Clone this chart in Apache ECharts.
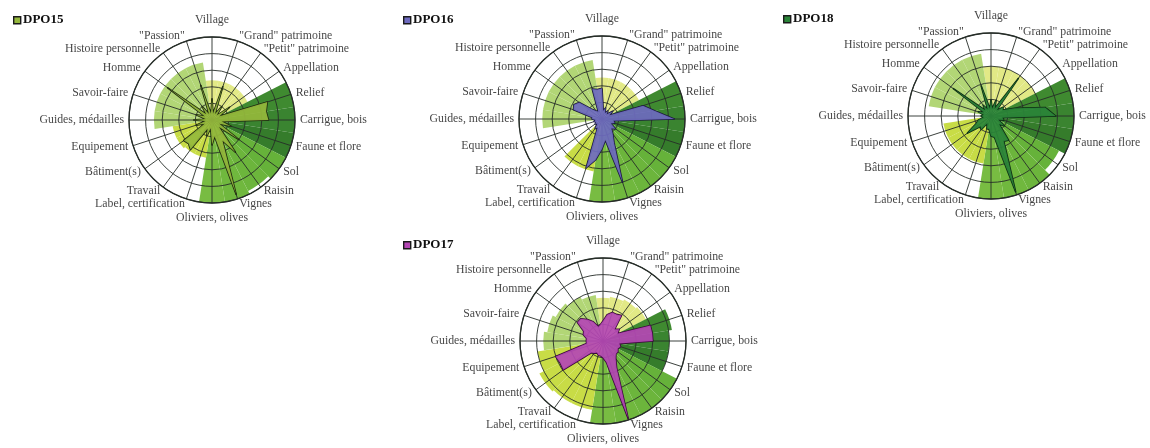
<!DOCTYPE html>
<html>
<head>
<meta charset="utf-8">
<script src="https://cdn.jsdelivr.net/npm/echarts@6/dist/echarts.min.js"></script>
<style>
html,body{margin:0;padding:0;background:#fff;}
#c{width:1150px;height:448px;}
</style>
</head>
<body>
<div id="c"></div>
<script>
// Categories, clockwise from the top
const categories = ['Village', '"Grand" patrimoine', '"Petit" patrimoine', 'Appellation', 'Relief',
  'Carrigue, bois', 'Faune et flore', 'Sol', 'Raisin', 'Vignes', 'Oliviers, olives',
  'Label, certification', 'Travail', 'Bâtiment(s)', 'Equipement', 'Guides, médailles',
  'Savoir-faire', 'Homme', 'Histoire personnelle', '"Passion"'];

const chartNames = ['DPO15', 'DPO16', 'DPO18', 'DPO17'];

// Background sector values (per category, 0-5)
const bgDPO15 = [2.4, 2.4, 2.4, 2.4, 5, 5, 5, 5, 4.8, 5, 5, 2.3, 2.3, 2.4, 2.4, 3.5, 3.5, 3.5, 3.5, 3.5];
const bgDPO16 = [2.5, 2.5, 2.5, 2.5, 5, 5, 5, 5, 5, 5, 5, 3.2, 3.2, 0, 0, 3.6, 3.6, 3.6, 3.6, 3.6];
const bgDPO18 = [3, 3, 3, 3, 5, 5, 5, 4.6, 5, 5, 5, 2.9, 2.9, 2.9, 2.9, 0.6, 3.8, 3.8, 3.8, 3.8];
const bgDPO17 = [2.6, 2.7, 2.8, 2.9, 4.2, 4.0, 4.0, 5, 5, 5, 5, 4.2, 4.2, 4.3, 4.0, 3.6, 3.4, 3.2, 3.0, 2.8];

// Star profile values: category values (clockwise) and in-between values
const catDPO15 = [1.3, 2.1, 1.0, 1.3, 3.5, 3.4, 1.2, 2.0, 2.4, 4.7, 1.5, 1.0, 2.2, 2.1, 1.0, 1.1, 1.0, 3.3, 1.0, 2.2];
const midDPO15 = [0.4, 0.4, 0.4, 0.5, 3.3, 0.6, 0.5, 0.6, 1.4, 1.0, 0.5, 0.6, 2.0, 0.5, 0.4, 0.4, 0.5, 0.5, 0.4, 0.4];
const catDPO16 = [1.85, 0.7, 0.6, 0.8, 2.6, 4.35, 0.8, 1.0, 1.1, 4.0, 1.8, 3.1, 0.7, 0.5, 0.5, 0.6, 1.8, 1.7, 0.6, 1.9];
const midDPO16 = [0.5, 0.4, 0.4, 0.5, 3.2, 0.7, 0.6, 0.8, 1.6, 1.3, 2.5, 0.6, 0.4, 0.4, 0.4, 0.6, 1.9, 0.8, 0.5, 1.8];
const catDPO18 = [1.0, 1.0, 2.8, 0.9, 1.5, 3.9, 0.8, 1.0, 1.8, 4.8, 1.2, 0.8, 1.0, 1.75, 0.8, 0.6, 0.8, 2.8, 0.8, 1.9];
const midDPO18 = [0.45, 0.5, 0.5, 0.8, 3.3, 0.7, 0.5, 0.7, 1.7, 1.3, 0.8, 0.5, 0.9, 1.0, 0.45, 0.45, 0.5, 0.5, 0.45, 0.45];
const catDPO17 = [1.2, 1.8, 1.9, 1.2, 3.0, 3.0, 1.1, 1.1, 1.3, 4.9, 1.0, 0.9, 0.9, 2.95, 3.0, 1.0, 1.24, 1.9, 1.6, 0.9];
const midDPO17 = [1.6, 1.8, 1.0, 1.0, 3.0, 1.0, 1.0, 1.1, 1.8, 1.3, 0.9, 0.8, 1.0, 2.9, 1.0, 1.0, 1.3, 1.9, 1.3, 1.0];

// Styles (kept separate from data)
const sectorColors = ['#e2e986', '#e2e986', '#e2e986', '#e2e986',
  '#3f8a30', '#3a8430', '#357c2b',
  '#66b23a', '#6cb53c', '#70b83e', '#78bc42',
  '#c8dc46', '#c8dc46', '#c8dc46', '#c8dc46',
  '#b2d676', '#b2d676', '#b2d676', '#b2d676', '#b2d676'];
const layout = [
  {center: [212, 120], title: [13, 13]},
  {center: [602, 119], title: [403, 13]},
  {center: [991, 116], title: [783, 12]},
  {center: [603, 341], title: [403, 238]}
];
const starFill = ['#95b83c', '#6e6abf', '#2a8438', '#b446b4'];
const starLine = ['#1e2a10', '#1c1c3c', '#0e2e14', '#3a0c3a'];
const R = 83;
const FONT = '"Liberation Serif", "DejaVu Serif", serif';
const LABEL_GAP = 5;

const bgSets = [bgDPO15, bgDPO16, bgDPO18, bgDPO17];
const catSets = [catDPO15, catDPO16, catDPO18, catDPO17];
const midSets = [midDPO15, midDPO16, midDPO18, midDPO17];

const polar = [], angleAxis = [], radiusAxis = [], radar = [], series = [], graphic = [];
const blank40 = Array.from({length: 40}, (_, i) => 'g' + i);

function labelFor(i) {
  const a = i * 2 * Math.PI / categories.length;
  const s = Math.sin(a), c = Math.cos(a);
  let align = Math.abs(s) < 0.15 ? 'center' : (s > 0 ? 'left' : 'right');
  let vAlign = 'middle';
  let off = [LABEL_GAP * s, -LABEL_GAP * c];
  if (c > 0.99) { vAlign = 'bottom'; off = [0, -11]; }
  if (c < -0.99) { vAlign = 'top'; off = [0, 9]; }
  return {show: true, position: 'inside', distance: 0, formatter: categories[i], align: align,
    verticalAlign: vAlign, offset: off, fontFamily: FONT, fontSize: 11.8, color: '#111'};
}

chartNames.forEach((name, k) => {
  const c = layout[k].center;
  // grid polar
  polar.push({center: c, radius: R});
  angleAxis.push({polarIndex: 2 * k, type: 'category', data: blank40, startAngle: 90, boundaryGap: true,
    axisLine: {show: true, lineStyle: {color: '#262d28', width: 1.3}},
    axisTick: {show: false}, axisLabel: {show: false},
    splitLine: {show: true, lineStyle: {color: '#262d28', width: 0.9}}, z: 3, silent: true});
  radiusAxis.push({polarIndex: 2 * k, min: 0, max: 5, interval: 1,
    axisLine: {show: false}, axisTick: {show: false}, axisLabel: {show: false},
    splitLine: {show: true, lineStyle: {color: '#262d28', width: 0.9}}, z: 3, silent: true});
  // sector / label polar
  polar.push({center: c, radius: R});
  angleAxis.push({polarIndex: 2 * k + 1, type: 'category', data: categories, startAngle: 99, boundaryGap: true,
    axisLine: {show: false}, axisTick: {show: false}, splitLine: {show: false}, axisLabel: {show: false}});
  radiusAxis.push({polarIndex: 2 * k + 1, min: 0, max: 5, interval: 1,
    axisLine: {show: false}, axisTick: {show: false}, axisLabel: {show: false}, splitLine: {show: false}});
  series.push({type: 'bar', coordinateSystem: 'polar', polarIndex: 2 * k + 1, barCategoryGap: '0%', z: 1, silent: true,
    data: bgSets[k].map((v, i) => ({value: v, itemStyle: {color: sectorColors[i]}}))});
  // category labels, anchored on the outer circle of the axis
  series.push({type: 'scatter', coordinateSystem: 'polar', polarIndex: 2 * k + 1, symbolSize: 0, z: 6, silent: true,
    data: categories.map((cat, i) => ({value: [5, i], label: labelFor(i)}))});
  // star: 40 points clockwise, reordered for radar (counter-clockwise)
  const cw = [];
  catSets[k].forEach((v, i) => { cw.push(v); cw.push(midSets[k][i]); });
  const ccw = [cw[0]].concat(cw.slice(1).reverse());
  radar.push({center: c, radius: R, startAngle: 90, shape: 'circle',
    indicator: ccw.map(() => ({name: '', min: 0, max: 5})),
    axisName: {show: false}, axisLine: {show: false}, splitLine: {show: false}, splitArea: {show: false},
    axisTick: {show: false}, axisLabel: {show: false}});
  series.push({type: 'radar', radarIndex: k, z: 4, symbol: 'none', silent: true,
    data: [{value: ccw, lineStyle: {color: starLine[k], width: 1.6},
      areaStyle: {color: starFill[k], opacity: 0.92}}]});
  // title with square
  const t = layout[k].title;
  graphic.push({type: 'rect', left: t[0], top: t[1] + 3, shape: {width: 7, height: 7},
    style: {fill: starFill[k], stroke: '#1a1a1a', lineWidth: 1.4}});
  graphic.push({type: 'text', left: t[0] + 10, top: t[1], style: {text: name, font: 'bold 13px ' + FONT, fill: '#111'}});
});

const chart = echarts.init(document.getElementById('c'), null, {renderer: 'canvas'});
chart.setOption({animation: false, backgroundColor: '#fff', polar, angleAxis, radiusAxis, radar, series, graphic});
</script>
</body>
</html>
